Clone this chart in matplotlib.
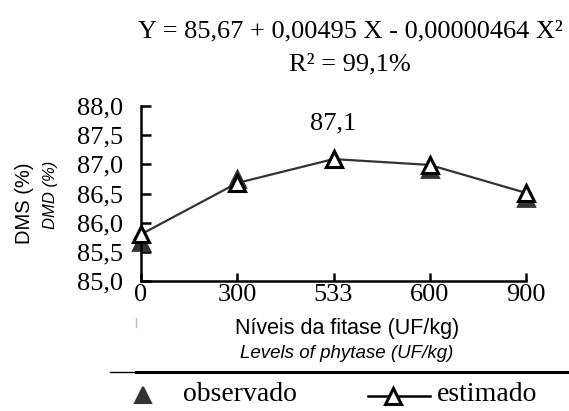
import matplotlib

matplotlib.use("Agg")

import matplotlib.pyplot as plt
from matplotlib.lines import Line2D

# data
levels = ["0", "300", "533", "600", "900"]
observed = [85.67, 86.75, 87.10, 86.92, 86.42]
estimated = [85.80, 86.68, 87.09, 86.99, 86.51]
y_ticks = [85.0, 85.5, 86.0, 86.5, 87.0, 87.5, 88.0]

W, H = 569, 411
SERIF = "Liberation Serif"
SANS = "Liberation Sans"


def fx(px):
    return px / W


def fy(py):
    return 1 - py / H


fig = plt.figure(figsize=(W / 100, H / 100), dpi=100)
ax = fig.add_axes([fx(141), fy(281), fx(526) - fx(141), fy(106) - fy(281)])

x = list(range(len(levels)))
ax.plot(x, observed, linestyle="none", marker="^", ms=12,
        mfc="#333333", mec="#333333", mew=2, zorder=2, clip_on=False)
ax.plot(x, estimated, color="#333333", lw=1.6, marker="^", ms=12,
        mfc="white", mec="black", mew=2.2, zorder=3, clip_on=False)

ax.text(2, 87.7, "87,1", ha="center", va="center", family=SERIF, fontsize=19)

ax.set_xlim(0, len(levels) - 1)
ax.set_ylim(85, 88)
ax.set_xticks(x)
ax.set_xticklabels(levels)
ax.set_yticks(y_ticks)
ax.set_yticklabels([f"{v:.1f}".replace(".", ",") for v in y_ticks])
for lab in ax.get_xticklabels() + ax.get_yticklabels():
    lab.set_family(SERIF)
    lab.set_fontsize(19)

ax.spines["top"].set_visible(False)
ax.spines["right"].set_visible(False)
ax.spines["left"].set_linewidth(1.8)
ax.spines["bottom"].set_linewidth(1.8)
ax.tick_params(axis="y", direction="in", length=7, width=1.8, pad=13)
ax.tick_params(axis="x", direction="in", length=6, width=1.8, pad=2)
ax.patch.set_alpha(0)

# equation on top
fig.text(fx(350), fy(37), "Y = 85,67 + 0,00495 X - 0,00000464 X²",
         ha="center", va="baseline", family=SERIF, fontsize=19)
fig.text(fx(350), fy(70), "R² = 99,1%", ha="center", va="baseline",
         family=SERIF, fontsize=19)

# axis labels
fig.text(fx(24), fy(203), "DMS (%)", rotation=90, ha="center", va="center",
         family=SANS, fontsize=14.5)
fig.text(fx(50), fy(195), "DMD (%)", rotation=90, ha="center", va="center",
         family=SANS, style="italic", fontsize=12)
fig.text(fx(347), fy(328), "Níveis da fitase (UF/kg)", ha="center",
         va="center", family=SANS, fontsize=15.5)
fig.text(fx(347), fy(353), "Levels of phytase (UF/kg)", ha="center",
         va="center", family=SANS, style="italic", fontsize=13.5)

# legend strip at the bottom
fig.add_artist(Line2D([fx(110), fx(136)], [fy(372), fy(372)], color="black", lw=1))
fig.add_artist(Line2D([fx(136), fx(569)], [fy(372), fy(372)], color="black", lw=2.2))
fig.add_artist(Line2D([fx(136), fx(136)], [fy(318), fy(327)], color="#bbbbbb", lw=1))
fig.add_artist(Line2D([fx(143)], [fy(395)], marker="^", ms=11, mfc="#333333",
                      mec="#333333", mew=1.5, linestyle="none"))
fig.text(fx(183), fy(401), "observado", ha="left", va="baseline",
         family=SERIF, fontsize=20)
fig.add_artist(Line2D([fx(368), fx(430)], [fy(396), fy(396)], color="black", lw=1.8))
fig.add_artist(Line2D([fx(393)], [fy(396)], marker="^", ms=12, mfc="white",
                      mec="black", mew=2.2, linestyle="none"))
fig.text(fx(437), fy(401), "estimado", ha="left", va="baseline",
         family=SERIF, fontsize=20)

fig.savefig("out.png", dpi=100)
plt.close(fig)
